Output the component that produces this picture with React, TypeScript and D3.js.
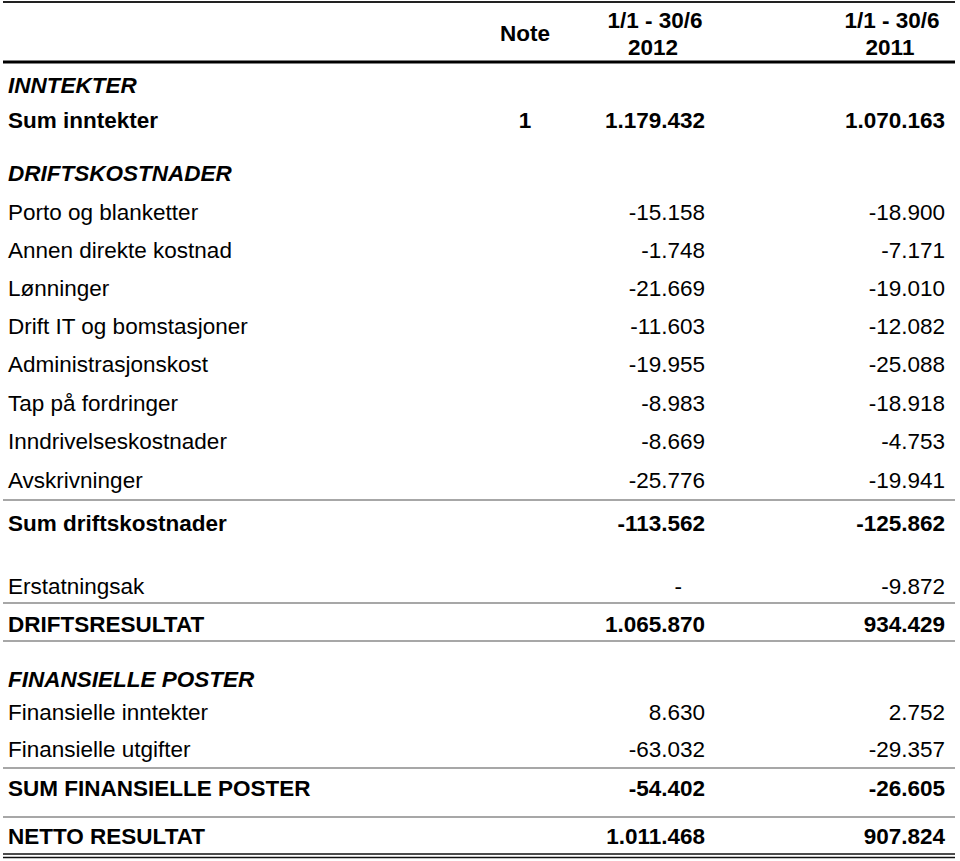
import React, { useRef, useEffect } from "react";
import { select, scaleLinear } from "d3";

// row labels, notes and values (NOK 1000)
const labels = [
  "INNTEKTER",
  "Sum inntekter",
  "DRIFTSKOSTNADER",
  "Porto og blanketter",
  "Annen direkte kostnad",
  "Lønninger",
  "Drift IT og bomstasjoner",
  "Administrasjonskost",
  "Tap på fordringer",
  "Inndrivelseskostnader",
  "Avskrivninger",
  "Sum driftskostnader",
  "Erstatningsak",
  "DRIFTSRESULTAT",
  "FINANSIELLE POSTER",
  "Finansielle inntekter",
  "Finansielle utgifter",
  "SUM FINANSIELLE POSTER",
  "NETTO RESULTAT",
];
// section = bold italic heading, sum = bold row, item = normal row
const kinds = [
  "section", "sum", "section", "item", "item", "item", "item", "item", "item",
  "item", "item", "sum", "item", "sum", "section", "item", "item", "sum", "sum",
];
const notes = ["", "1", "", "", "", "", "", "", "", "", "", "", "", "", "", "", "", "", ""];
const values2012 = [
  "", "1.179.432", "", "-15.158", "-1.748", "-21.669", "-11.603", "-19.955", "-8.983",
  "-8.669", "-25.776", "-113.562", "-", "1.065.870", "", "8.630", "-63.032", "-54.402", "1.011.468",
];
const values2011 = [
  "", "1.070.163", "", "-18.900", "-7.171", "-19.010", "-12.082", "-25.088", "-18.918",
  "-4.753", "-19.941", "-125.862", "-9.872", "934.429", "", "2.752", "-29.357", "-26.605", "907.824",
];
const columnHeads = ["Note", "1/1 - 30/6|2012", "1/1 - 30/6|2011"];

// layout: vertical gap before each row, rules below rows (offset from row centre)
const gaps = [23, 35, 53, 39, 38, 38, 38, 38, 39, 38, 39, 43, 63, 38, 55, 33, 37, 39, 48];
const rulesAfter: Record<number, [string, number]> = {
  10: ["thin", 20], 12: ["thin", 17], 13: ["thin", 17], 16: ["thin", 19], 17: ["thin", 29], 18: ["double", 18],
};

const W = 960;
const H = 861;
const FONT = "'Liberation Sans', Arial, Helvetica, sans-serif";
const FS = 22.5;

function StatementTable() {
  const svgRef = useRef<SVGSVGElement>(null);

  useEffect(() => {
    const svg = select(svgRef.current);
    svg.selectAll("*").remove();

    const x = scaleLinear().domain([0, 1]).range([3, 955]);
    const labelX = 8;
    const noteX = 525;
    const col2012 = 705;
    const col2011 = 945;
    const headTop = 2;
    const headBottom = 62;

    // cumulative row centres
    const rowY: number[] = [];
    gaps.reduce((acc, g, i) => {
      rowY[i] = acc + g;
      return acc + g;
    }, headBottom);

    // header rules
    svg.append("line")
      .attr("x1", x(0)).attr("x2", x(1))
      .attr("y1", headTop).attr("y2", headTop)
      .attr("stroke", "#222").attr("stroke-width", 2);
    svg.append("line")
      .attr("x1", x(0)).attr("x2", x(1))
      .attr("y1", headBottom).attr("y2", headBottom)
      .attr("stroke", "#000").attr("stroke-width", 3);

    // header texts
    const head = svg.append("g")
      .attr("font-family", FONT)
      .attr("font-size", FS)
      .attr("font-weight", "bold")
      .attr("text-anchor", "middle");
    head.append("text").attr("x", noteX).attr("y", 33).attr("dy", "0.36em").text(columnHeads[0]);
    [[655, columnHeads[1]], [892, columnHeads[2]]].forEach(([cx, t]) => {
      const [l1, l2] = (t as string).split("|");
      head.append("text").attr("x", cx).attr("y", 20).attr("dy", "0.36em").text(l1);
      head.append("text").attr("x", cx - 2).attr("y", 47).attr("dy", "0.36em").text(l2);
    });

    const rows = svg.append("g")
      .attr("font-family", FONT)
      .attr("font-size", FS)
      .attr("fill", "#000");

    const rowGroups = rows.selectAll("g.row")
      .data(labels.map((label, i) => ({ label, i })))
      .join("g")
      .attr("class", "row")
      .attr("transform", (d) => `translate(0,${rowY[d.i]})`)
      .attr("font-weight", (d) => (kinds[d.i] === "item" ? "normal" : "bold"))
      .attr("font-style", (d) => (kinds[d.i] === "section" ? "italic" : "normal"));

    rowGroups.append("text")
      .attr("x", labelX).attr("dy", "0.36em")
      .text((d) => d.label);
    rowGroups.append("text")
      .attr("x", noteX).attr("dy", "0.36em").attr("text-anchor", "middle")
      .text((d) => notes[d.i]);
    rowGroups.append("text")
      .attr("x", (d) => (values2012[d.i] === "-" ? col2012 - 23 : col2012))
      .attr("dy", "0.36em").attr("text-anchor", "end")
      .text((d) => values2012[d.i]);
    rowGroups.append("text")
      .attr("x", col2011).attr("dy", "0.36em").attr("text-anchor", "end")
      .text((d) => values2011[d.i]);

    // rules under rows
    Object.entries(rulesAfter).forEach(([k, [type, off]]) => {
      const y0 = rowY[+k] + off;
      if (type === "thin") {
        svg.append("line")
          .attr("x1", x(0)).attr("x2", x(1))
          .attr("y1", y0).attr("y2", y0)
          .attr("stroke", "#8a8a8a").attr("stroke-width", 1.5);
      } else {
        [y0, y0 + 3.5].forEach((y) => {
          svg.append("line")
            .attr("x1", x(0)).attr("x2", x(1))
            .attr("y1", y).attr("y2", y)
            .attr("stroke", "#111").attr("stroke-width", 1.6);
        });
      }
    });
  }, []);

  return (
    <svg
      ref={svgRef}
      width={W}
      height={H}
      style={{ position: "absolute", left: 0, top: 0, background: "#fff" }}
    />
  );
}

export default function App() {
  return <StatementTable />;
}
